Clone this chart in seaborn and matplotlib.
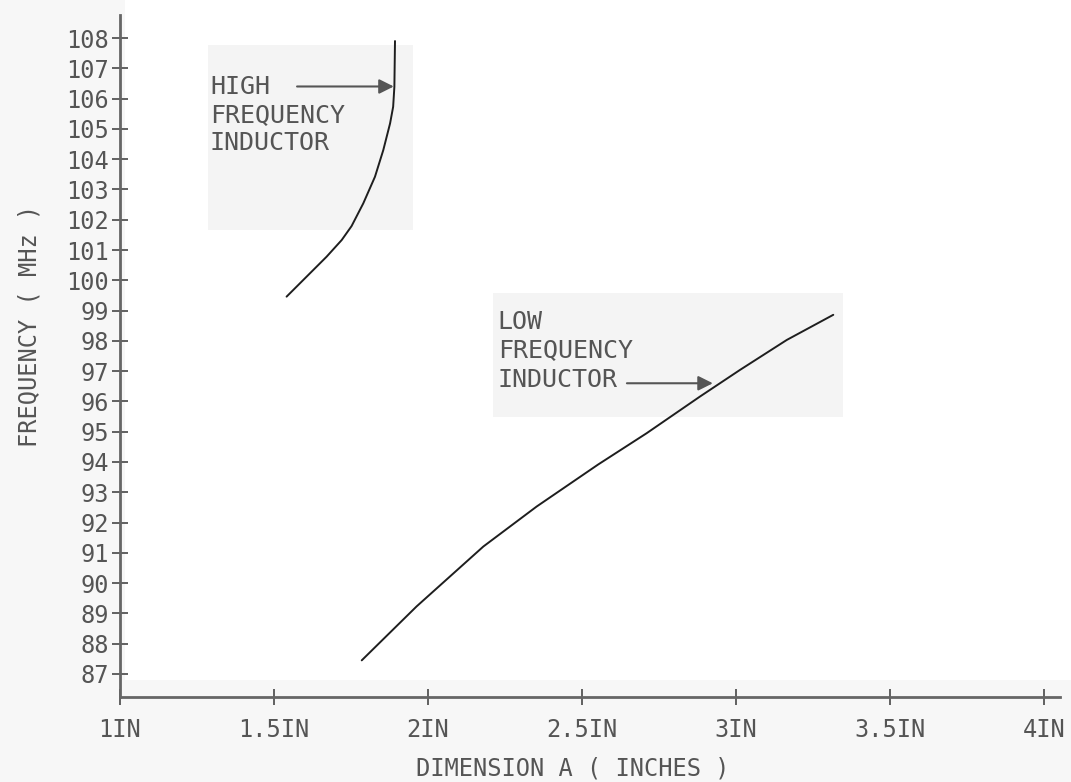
import matplotlib
matplotlib.use("Agg")
import matplotlib.pyplot as plt
import seaborn as sns
import pandas as pd
from matplotlib.patches import Rectangle

# data
high_x = [1.541, 1.606, 1.671, 1.720, 1.752, 1.790, 1.828, 1.855, 1.877, 1.887, 1.891, 1.893]
high_y = [99.46, 100.12, 100.78, 101.33, 101.79, 102.54, 103.42, 104.30, 105.18, 105.73, 106.39, 107.90]

low_x = [1.785, 1.963, 2.180, 2.353, 2.553, 2.710, 2.883, 3.013, 3.165, 3.316]
low_y = [87.45, 89.23, 91.21, 92.53, 93.92, 94.95, 96.16, 97.04, 98.03, 98.86]

x_ticks = [1.0, 1.5, 2.0, 2.5, 3.0, 3.5, 4.0]
x_tick_labels = ["1IN", "1.5IN", "2IN", "2.5IN", "3IN", "3.5IN", "4IN"]
y_ticks = list(range(87, 109))

high_lines = ["HIGH", "FREQUENCY", "INDUCTOR"]
high_line_y = [106.38, 105.45, 104.53]
low_lines = ["LOW", "FREQUENCY", "INDUCTOR"]
low_line_y = [98.63, 97.70, 96.71]

ink = "#555555"
line_ink = "#1e1e1e"

sns.set_theme(style="white")
plt.rcParams["font.family"] = ["DejaVu Sans Mono", "DejaVu Sans"]

fig = plt.figure(figsize=(10.71, 7.82), dpi=100)

# faint scan patches behind the plot
for rect in [(0, 0.12, 0.117, 0.88), (0, 0, 1.0, 0.13)]:
    fig.patches.append(Rectangle(rect[:2], rect[2], rect[3], transform=fig.transFigure,
                                 facecolor="#f7f7f7", edgecolor="none", zorder=-5))

ax = fig.add_axes([0.112, 0.1087, 0.8777, 0.8721])
ax.patch.set_alpha(0)

high = pd.DataFrame({"x": high_x, "y": high_y})
low = pd.DataFrame({"x": low_x, "y": low_y})
sns.lineplot(data=high, x="x", y="y", sort=False, estimator=None, color=line_ink, lw=1.4, ax=ax)
sns.lineplot(data=low, x="x", y="y", sort=False, estimator=None, color=line_ink, lw=1.4, ax=ax)

ax.set_xlim(1.0, 4.052)
ax.set_ylim(86.24, 108.76)

# label boxes
ax.add_patch(Rectangle((1.286, 101.66), 0.666, 6.11, facecolor="#f4f4f4", edgecolor="none", zorder=0))
ax.add_patch(Rectangle((2.211, 95.49), 1.136, 4.09, facecolor="#f4f4f4", edgecolor="none", zorder=0))

txt = dict(color=ink, fontsize=18, ha="left", va="center")
for s, y in zip(high_lines, high_line_y):
    ax.text(1.292, y, s, **txt)
for s, y in zip(low_lines, low_line_y):
    ax.text(2.227, y, s, **txt)

arrow = dict(arrowstyle="-|>", color="#555555", lw=1.5, mutation_scale=22, shrinkA=0, shrinkB=0)
ax.annotate("", xy=(1.889, 106.4), xytext=(1.575, 106.4), arrowprops=arrow)
ax.annotate("", xy=(2.925, 96.6), xytext=(2.646, 96.6), arrowprops=arrow)

sns.despine(ax=ax)
for side in ["left", "bottom"]:
    ax.spines[side].set_color("#666666")
    ax.spines[side].set_linewidth(2)

ax.set_xticks(x_ticks)
ax.set_xticklabels(x_tick_labels)
ax.set_yticks(y_ticks)
ax.set_yticklabels([str(v) for v in y_ticks])
ax.tick_params(axis="both", bottom=True, left=True, direction="inout", length=12, width=1.3,
               color="#555555", labelsize=17, labelcolor=ink)
ax.tick_params(axis="x", pad=9)
ax.tick_params(axis="y", pad=2)

ax.set_xlabel("DIMENSION A ( INCHES )", fontsize=17, color=ink)
ax.xaxis.set_label_coords(0.482, -0.087)
ax.set_ylabel("FREQUENCY ( MHz )", fontsize=17, color=ink)
ax.yaxis.set_label_coords(-0.083, 0.544)

fig.savefig("out.png", dpi=100)
